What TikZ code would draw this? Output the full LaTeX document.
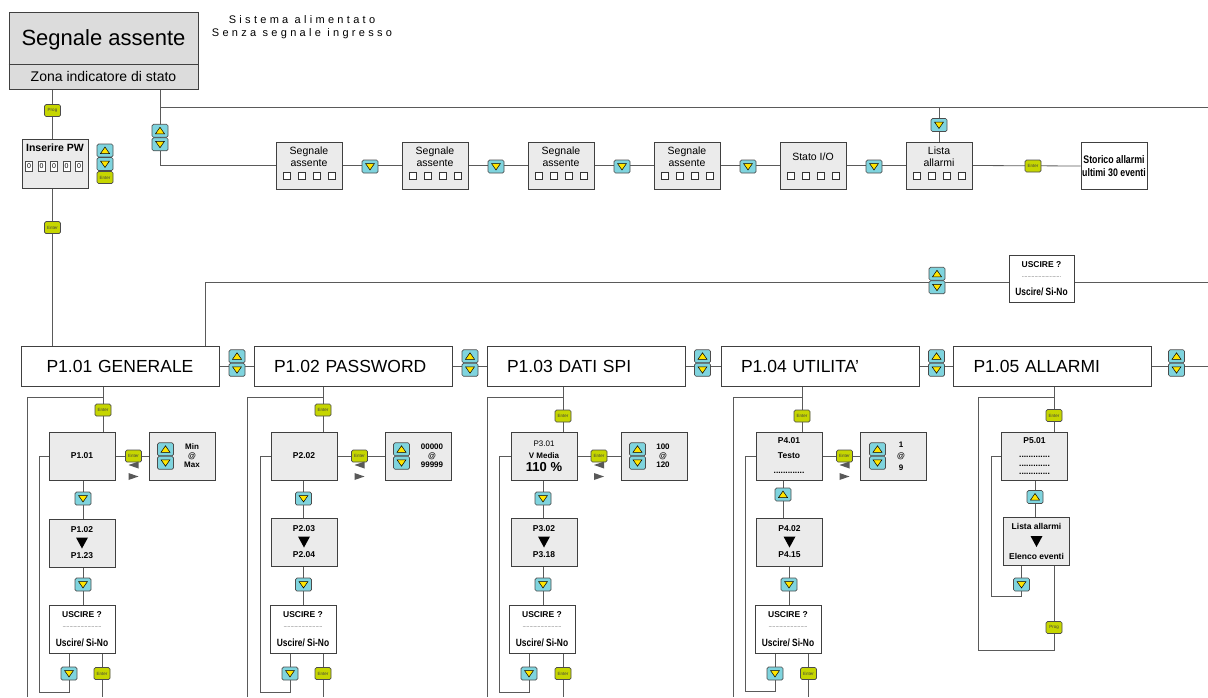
\documentclass[tikz,border=0pt]{standalone}
\usepackage{fontspec}
\setmainfont{Liberation Sans}
\newfontfamily\narrowfont[FakeStretch=0.8]{Liberation Sans}
\newfontfamily\spacedfont[LetterSpace=30]{Liberation Sans}
\usetikzlibrary{positioning,calc}
\definecolor{btncyan}{HTML}{7FD4DE}
\definecolor{btnyel}{HTML}{FFE400}
\definecolor{btngrn}{HTML}{C6D600}
\definecolor{boxgray}{HTML}{EBEBEB}
\definecolor{topgray}{HTML}{DCDCDC}
\definecolor{linegray}{HTML}{5A5A5A}
\pgfdeclarelayer{bg}
\pgfsetlayers{bg,main}
\tikzstyle{line} = [draw=linegray, line width=0.8pt]
\tikzset{
  btn/.style={draw=black!70, fill=btncyan, rounded corners=1.5pt, minimum width=16pt, minimum height=13pt, inner sep=0pt, line width=0.7pt},
  upbtn/.style={btn, path picture={\filldraw[sharp corners, fill=btnyel, draw=black, line width=0.5pt] ([shift={(-4.5pt,-3pt)}]path picture bounding box.center) -- ++(9pt,0pt) -- ++(-4.5pt,6.5pt) -- cycle;}},
  dnbtn/.style={btn, path picture={\filldraw[sharp corners, fill=btnyel, draw=black, line width=0.5pt] ([shift={(-4.5pt,3pt)}]path picture bounding box.center) -- ++(9pt,0pt) -- ++(-4.5pt,-6.5pt) -- cycle;}},
  entbtn/.style={draw=black!70, fill=btngrn, rounded corners=1.5pt, minimum width=16pt, minimum height=12pt, inner sep=0pt, line width=0.7pt, font=\fontsize{4.5}{4.5}\selectfont, text=black!75},
  gbox/.style={draw=black!75, fill=boxgray, line width=0.8pt, minimum width=66pt, minimum height=48pt, inner sep=0pt, align=center, font=\bfseries\fontsize{8.5}{10}\selectfont},
  wbox/.style={gbox, fill=white},
  hdr/.style={draw=black!75, fill=white, line width=0.8pt, minimum height=40pt, text width=158pt, inner xsep=20pt, font=\fontsize{17.5}{20}\selectfont},
  sq/.style={draw=black!80, fill=white, minimum size=7pt, inner sep=0pt, line width=0.6pt},
  digit/.style={draw=black!70, fill=white, minimum width=7pt, minimum height=10pt, inner sep=0pt, font=\fontsize{7}{7}\selectfont},
  vals/.style={align=center, inner sep=0pt, font=\bfseries\fontsize{8}{9}\selectfont},
}
\newcommand{\updown}[3]{\node[upbtn] (#1u) at (#2,#3-6.75) {}; \node[dnbtn] (#1d) at (#2,#3+6.75) {};}
\newcommand{\lrmarks}[1]{%
  \fill[black!65] ([shift={(-5pt,-9pt)}]#1.center) -- ++(10pt,3.5pt) -- ++(0pt,-7pt) -- cycle;
  \fill[black!65] ([shift={(5pt,-20.5pt)}]#1.center) -- ++(-10pt,3.5pt) -- ++(0pt,-7pt) -- cycle;}
\newcommand{\bigdown}[1]{\fill[black] ([shift={(-6pt,5.5pt)}]#1.center) -- ++(12pt,0pt) -- ++(-6pt,-11pt) -- cycle;}
\newcommand{\uscire}{USCIRE ?\\{\fontsize{5}{5}\selectfont\mdseries ............................}\\[8.5pt]{\narrowfont\bfseries\fontsize{10.5}{12}\selectfont Uscire/ Si-No}}

\begin{document}
\begin{tikzpicture}[x=1pt, y=-1pt]
    \useasboundingbox (0,0) rectangle (1208,697);
    \coordinate (bot) at (0,697);
    \coordinate (redge) at (1208,0);

    % stato iniziale
    \node[draw=black!75, fill=topgray, line width=0.8pt, minimum width=189pt, minimum height=77pt, inner sep=0pt] (sa) at (103.5,50.5) {};
    \coordinate (div) at (0,64);
    \draw[draw=black!75, line width=0.8pt] (sa.west |- div) -- (sa.east |- div);
    \node[font=\fontsize{22}{24}\selectfont] (sat) at (103.5,40) {Segnale assente};
    \node[font=\fontsize{14}{16}\selectfont] (saz) at (103.5,76) {Zona indicatore di stato};
    \node[font=\spacedfont\fontsize{11}{13}\selectfont, align=center] (sys) at (302,27.5) {Sistema alimentato\\Senza segnale ingresso};

    % password
    \node[entbtn] (prog) at (52.5,110.5) {Prog};
    \node[gbox, minimum height=49pt] (pw) at (55,163.5) {};
    \node[font=\bfseries\fontsize{10.5}{12}\selectfont] (pwt) at (55,148) {Inserire PW};
    \foreach \k in {0,...,4}
        \node[digit] (dg\k) at (29+12.5*\k,166) {0};
    \node[upbtn] (pwu) at (105,150.5) {};
    \node[dnbtn] (pwd) at (105,164) {};
    \node[entbtn] (pwe) at (105,177.5) {Enter};
    \node[entbtn] (pwent) at (52.5,227.5) {Enter};

    % riga visualizzazioni
    \updown{tl}{160}{137.5}
    \foreach \i/\txt in {1/{Segnale\\assente},2/{Segnale\\assente},3/{Segnale\\assente},4/{Segnale\\assente},5/{Stato I/O},6/{Lista\\allarmi}} {
        \node[gbox, minimum height=47pt] (top\i) at (183+126*\i,165.5) {};
        \node[align=center, inner sep=0pt, font=\fontsize{10.5}{12}\selectfont] (tt\i) at (183+126*\i,157) {\txt};
        \foreach \k in {0,...,3}
            \node[sq] (sq\i\k) at (160.5+126*\i+15*\k,176) {};
    }
    \foreach \i in {1,...,5}
        \node[dnbtn] (tb\i) at (244+126*\i,166.5) {};
    \node[dnbtn] (tl6) at (939,125) {};
    \node[entbtn] (te) at (1033,166) {Enter};
    \node[wbox, minimum height=47pt, font=\narrowfont\bfseries\fontsize{11}{13}\selectfont] (sto) at (1114,166) {Storico allarmi\\ultimi 30 eventi};

    % uscita
    \updown{xp}{937}{280.5}
    \node[wbox, minimum width=65pt, minimum height=47pt] (xu) at (1041.5,278.5) {\uscire};

    % menu principale
    \node[hdr, align=center] (h1) at (120,366) {P1.01 GENERALE};
    \node[hdr, align=left] (h2) at (353,366) {P1.02 PASSWORD};
    \node[hdr, align=left] (h3) at (586,366) {P1.03 DATI SPI};
    \node[hdr, align=left] (h4) at (820,366) {P1.04 UTILITA'};
    \node[hdr, align=left] (h5) at (1052.5,366) {P1.05 ALLARMI};
    \updown{hp1}{237}{363}
    \updown{hp2}{470}{363}
    \updown{hp3}{702.5}{363}
    \updown{hp4}{936.5}{363}
    \updown{hp5}{1176.5}{363}

    % colonna 1
    \node[entbtn] (e1) at (103,410) {Enter};
    \node[gbox] (a1) at (82,456) {P1.01};
    \node[entbtn] (le1) at (133.5,456) {Enter};
    \node[gbox] (r1) at (182,456) {};
    \updown{rb1}{165.5}{456}
    \node[vals] (rt1) at (192,456) {Min\\@\\Max};
    \node[dnbtn] (s1) at (83,498.5) {};
    \node[gbox, font=\bfseries\fontsize{8.5}{26}\selectfont] (b1) at (82,543) {P1.02\\P1.23};
    \node[dnbtn] (t1) at (83,584.5) {};
    \node[wbox] (u1) at (82,629) {\uscire};
    \node[dnbtn] (ul1) at (69,673.5) {};
    \node[entbtn] (ue1) at (102,673.5) {Enter};

    % colonna 2
    \node[entbtn] (e2) at (323,410) {Enter};
    \node[gbox] (a2) at (304,456) {P2.02};
    \node[entbtn] (le2) at (359.5,456) {Enter};
    \node[gbox] (r2) at (418,456) {};
    \updown{rb2}{401.5}{456}
    \node[vals] (rt2) at (432,456) {00000\\@\\99999};
    \node[dnbtn] (s2) at (303.5,498.5) {};
    \node[gbox, font=\bfseries\fontsize{8.5}{26}\selectfont] (b2) at (304,542) {P2.03\\P2.04};
    \node[dnbtn] (t2) at (303.5,584.5) {};
    \node[wbox] (u2) at (303,629) {\uscire};
    \node[dnbtn] (ul2) at (290,673.5) {};
    \node[entbtn] (ue2) at (323,673.5) {Enter};

    % colonna 3
    \node[entbtn] (e3) at (563,416) {Enter};
    \node[gbox, font=\fontsize{8}{12}\selectfont] (a3) at (544,456) {P3.01\\\textbf{V Media}\\[1pt]{\bfseries\fontsize{13}{14}\selectfont 110 \%}};
    \node[entbtn] (le3) at (599,456) {Enter};
    \node[gbox] (r3) at (654.5,456) {};
    \updown{rb3}{637.5}{456}
    \node[vals] (rt3) at (663,456) {100\\@\\120};
    \node[dnbtn] (s3) at (543,498.5) {};
    \node[gbox, font=\bfseries\fontsize{8.5}{26}\selectfont] (b3) at (544,542) {P3.02\\P3.18};
    \node[dnbtn] (t3) at (543,584.5) {};
    \node[wbox] (u3) at (542,629) {\uscire};
    \node[dnbtn] (ul3) at (529,673.5) {};
    \node[entbtn] (ue3) at (563,673.5) {Enter};

    % colonna 4
    \node[entbtn] (e4) at (802,416) {Enter};
    \node[gbox, font=\bfseries\fontsize{8.5}{15}\selectfont] (a4) at (789,456) {P4.01\\Testo\\.............};
    \node[entbtn] (le4) at (844.5,456) {Enter};
    \node[gbox] (r4) at (893.5,456) {};
    \updown{rb4}{877.5}{456}
    \node[vals, font=\bfseries\fontsize{8}{11.5}\selectfont] (rt4) at (901,456) {1\\@\\9};
    \node[upbtn] (s4) at (783,494.5) {};
    \node[gbox, font=\bfseries\fontsize{8.5}{26}\selectfont] (b4) at (789.5,542) {P4.02\\P4.15};
    \node[dnbtn] (t4) at (789,584.5) {};
    \node[wbox] (u4) at (788,629) {\uscire};
    \node[dnbtn] (ul4) at (775,673.5) {};
    \node[entbtn] (ue4) at (808.5,673.5) {Enter};

    % colonna 5
    \node[entbtn] (e5) at (1054,415.5) {Enter};
    \node[gbox, font=\bfseries\fontsize{8.5}{8.5}\selectfont] (a5) at (1034.5,456) {P5.01\\[6pt].............\\.............\\.............};
    \node[upbtn] (s5) at (1035,497) {};
    \node[gbox, font=\bfseries\fontsize{8.5}{30}\selectfont] (b5) at (1036.5,541.5) {Lista allarmi\\Elenco eventi};
    \node[dnbtn] (t5) at (1021.5,584.5) {};
    \node[entbtn] (pr5) at (1054,627.5) {Prog};

    \foreach \n in {le1,le2,le3,le4} {
        \lrmarks{\n}
    }
    \foreach \n in {b1,b2,b3,b4,b5} {
        \bigdown{\n}
    }

    \begin{pgfonlayer}{bg}
        % collegamenti in alto
        \coordinate (br) at (160,107);
        \draw[line] (sa.south -| prog) -- (pw.north -| prog);
        \draw[line] (pw.south -| prog) -- (h1.north -| prog);
        \draw[line] (sa.south -| br) |- (top1.west);
        \draw[line] (br) -- (br -| redge);
        \draw[line] (br -| top6) -- (top6.north);
        \foreach \i/\j in {1/2,2/3,3/4,4/5,5/6}
            \draw[line] (top\i.east) -- (top\j.west);
        \draw[line] (top6.east) -- (sto.west);
        \coordinate (xl) at (205,282);
        \draw[line] (h1.north -| xl) -- (xl) -- (xl -| redge);
        \foreach \i/\j in {1/2,2/3,3/4,4/5}
            \draw[line] (h\i.east) -- (h\j.west);
        \draw[line] (h5.east) -- (h5.east -| redge);
        % colonne 1-4
        \foreach \c/\ox/\ix/\iy in {1/27/39/692,2/247/260/692,3/487/499/692,4/733/745/691} {
            \coordinate (oc\c) at (\ox,397);
            \coordinate (ic\c) at (\ix,\iy);
            \draw[line] (h\c.south -| e\c) -- (a\c.north -| e\c);
            \draw[line] (e\c |- oc\c) -- (oc\c) -- (oc\c |- bot);
            \draw[line] (a\c.east) -- (r\c.west);
            \draw[line] (a\c.south -| s\c) -- (b\c.north -| s\c);
            \draw[line] (b\c.south -| t\c) -- (u\c.north -| t\c);
            \draw[line] (u\c.south -| ul\c) |- (ic\c) |- (a\c.west);
            \draw[line] (u\c.south -| ue\c) -- (ue\c |- bot);
        }
        % colonna 5
        \coordinate (oc5) at (978,397);
        \coordinate (ob5) at (978,650);
        \coordinate (ic5) at (991,596);
        \draw[line] (h5.south -| e5) -- (a5.north -| e5);
        \draw[line] (e5 |- oc5) -- (oc5) -- (ob5) -| (pr5) -- (b5.south -| pr5);
        \draw[line] (a5.south -| s5) -- (b5.north -| s5);
        \draw[line] (b5.south -| t5) -- (t5) |- (ic5) |- (a5.west);
    \end{pgfonlayer}
\end{tikzpicture}
\end{document}
